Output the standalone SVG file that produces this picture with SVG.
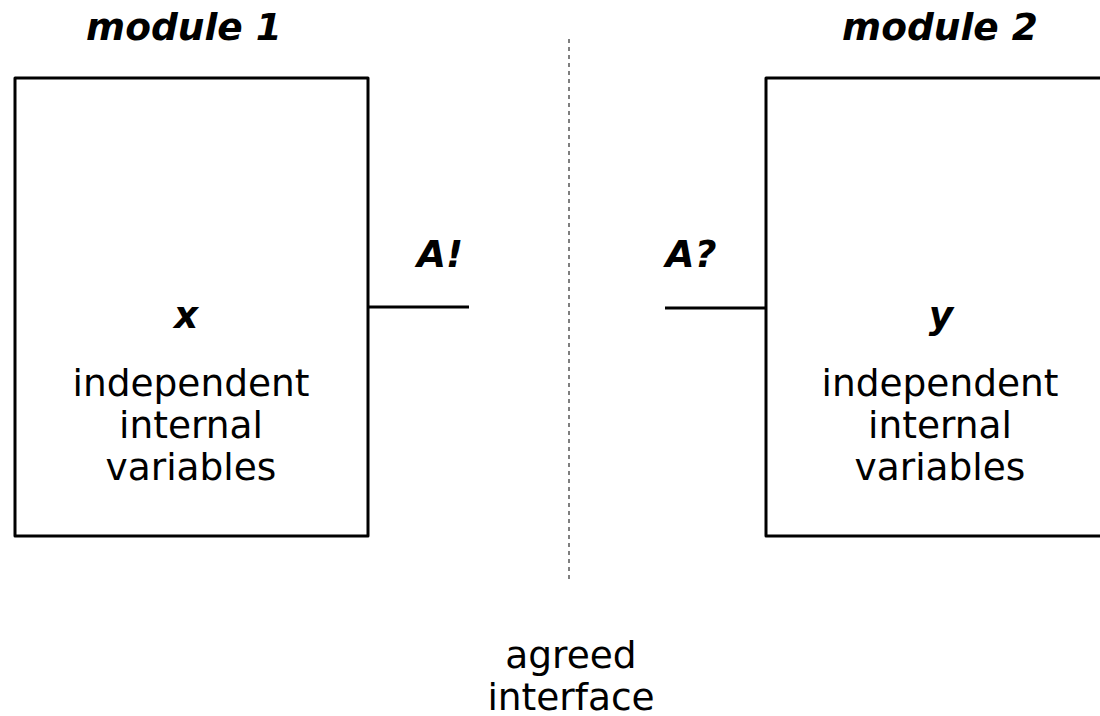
<svg xmlns="http://www.w3.org/2000/svg" width="1100" height="716" viewBox="0 0 1100 716">
  <style>
    .box { fill: #ffffff; stroke: #000000; stroke-width: 3; stroke-linejoin: round; }
    .port { stroke: #000000; stroke-width: 3; fill: none; }
    .divider { stroke: #000000; stroke-width: 1; stroke-dasharray: 4 4; fill: none; }
    .title { font-family: "DejaVu Sans", sans-serif; font-weight: bold; font-style: oblique; font-size: 37.5px; fill: #000000; text-anchor: middle; }
    .body { font-family: "DejaVu Sans", sans-serif; font-size: 37.5px; fill: #000000; text-anchor: middle; }
  </style>
  <rect width="1100" height="716" fill="#ffffff"/>

  <!-- interface boundary and the two port stubs -->
  <g id="connectors">
    <line class="divider" x1="569" y1="39" x2="569" y2="582"/>
    <line class="port" x1="368" y1="307" x2="469" y2="307"/>
    <line class="port" x1="665" y1="308" x2="766" y2="308"/>
  </g>

  <g id="module1">
    <text class="title" x="184" y="40">module 1</text>
    <rect class="box" x="15" y="78" width="353" height="458"/>
    <text class="title" x="186" y="328">x</text>
    <text class="body" x="191" y="396">independent</text>
    <text class="body" x="191" y="438">internal</text>
    <text class="body" x="191" y="480">variables</text>
  </g>

  <g id="module2">
    <text class="title" x="940" y="40">module 2</text>
    <rect class="box" x="766" y="78" width="353" height="458"/>
    <text class="title" x="941" y="328">y</text>
    <text class="body" x="940" y="396">independent</text>
    <text class="body" x="940" y="438">internal</text>
    <text class="body" x="940" y="480">variables</text>
  </g>

  <g id="port-send">
    <text class="title" x="440" y="267">A!</text>
  </g>
  <g id="port-receive">
    <text class="title" x="691" y="267">A?</text>
  </g>

  <g id="interface-label">
    <text class="body" x="571" y="668">agreed</text>
    <text class="body" x="571" y="710">interface</text>
  </g>
</svg>
